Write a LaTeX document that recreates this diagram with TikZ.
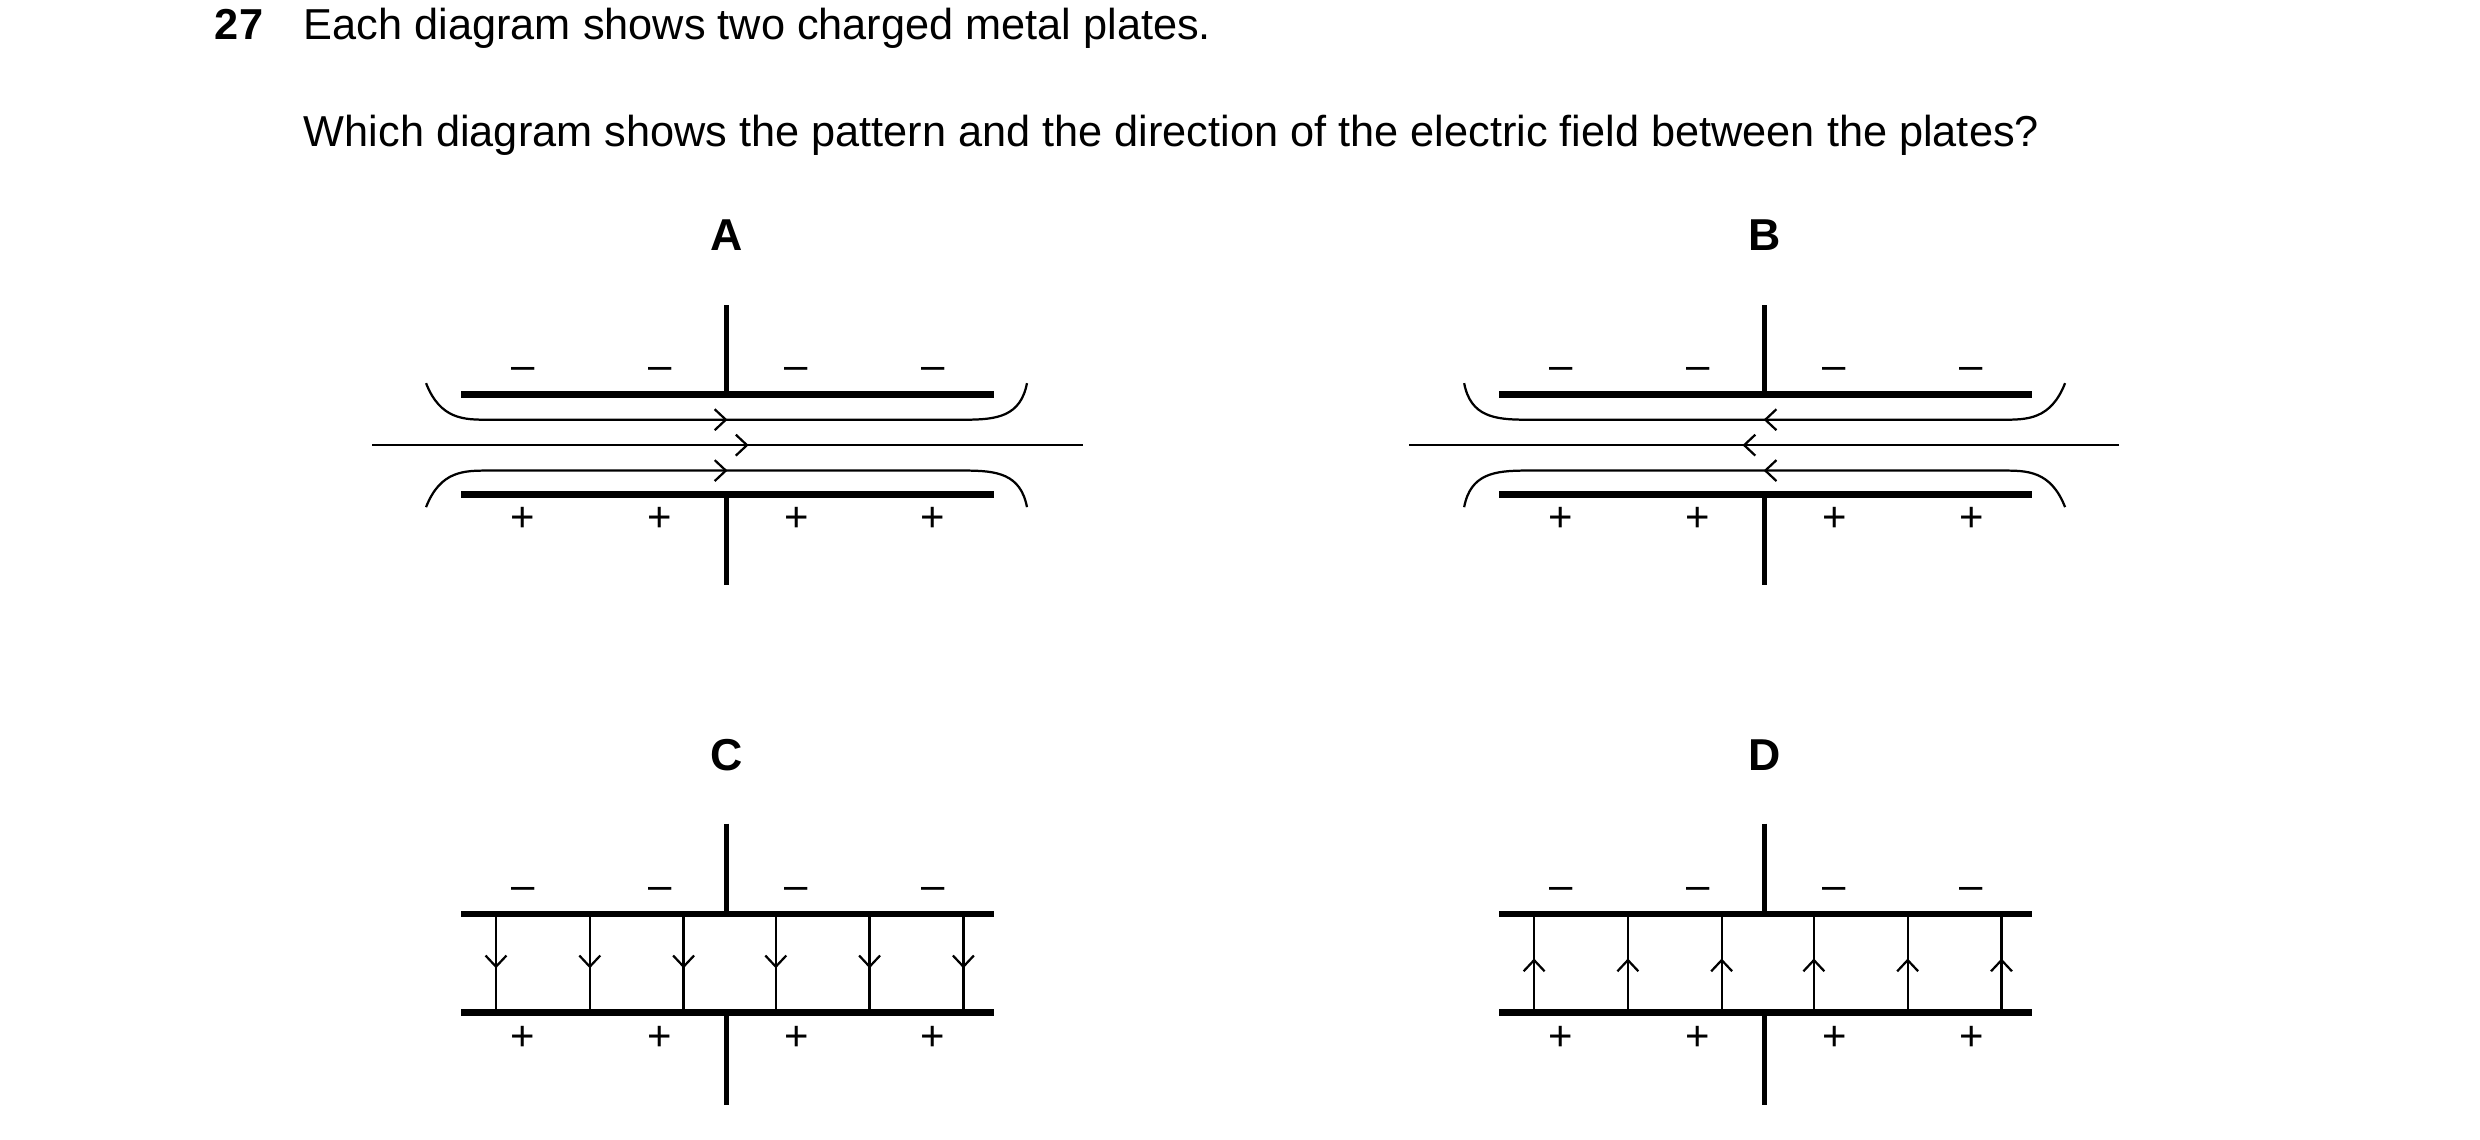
\documentclass[tikz,border=0pt]{standalone}
\usepackage{fontspec}
\setmainfont{Liberation Sans}
\usetikzlibrary{arrows.meta,decorations.markings}
\tikzset{
    plate/.style={line width=2.4pt},
    wire/.style={line width=1.6pt},
    fieldline/.style={line width=0.8pt},
    chev/.style={decoration={markings,mark=at position #1 with {\arrow{Straight Barb[length=4pt,width=7.5pt,line width=0.8pt]}}},postaction={decorate}},
    sign/.style={font=\fontsize{15}{18}\selectfont},
    letter/.style={font=\fontsize{16}{19}\selectfont\bfseries}
}
% plates with signs, centred at #1, plate heights #2 and #3, wire ends #4 and #5
\newcommand\PlatePair[5]{%
    \draw[plate] (#1-167,#2) -- (#1+168,#2);
    \draw[plate] (#1-167,#3) -- (#1+168,#3);
    \draw[wire] (#1,#4) -- (#1,#2);
    \draw[wire] (#1,#3) -- (#1,#5);
    \foreach \dx in {-128,-42,44,130} {
        \node[sign] at (#1+\dx,#2-13) {–};
        \node[sign] at (#1+\dx,#3+16) {+};
    }
}
% curved field pattern, #1 centre, #2 arrow position on the straight parts
\newcommand\CurvedField[3]{%
    \draw[fieldline,chev=#3] (#1-223,280) -- (#1+224,280);
    \draw[fieldline,chev=#2] (#1-189,241) .. controls (#1-180,264) and (#1-165,264) .. (#1-150,264)
        -- (#1+150,264) .. controls (#1+170,264) and (#1+185,262) .. (#1+189,241);
    \draw[fieldline,chev=#2] (#1-189,319) .. controls (#1-180,296) and (#1-165,296) .. (#1-150,296)
        -- (#1+150,296) .. controls (#1+170,296) and (#1+185,298) .. (#1+189,319);
}

\begin{document}
\begin{tikzpicture}[x=0.02cm,y=-0.02cm]
    \useasboundingbox (0,0) rectangle (1560,716.5);
    % question
    \node[anchor=base west,font=\fontsize{15.5}{18}\selectfont\bfseries] (num) at (129,25) {27};
    \node[anchor=base west,font=\fontsize{15.5}{18}\selectfont] (line1) at (185,25) {Each diagram shows two charged metal plates.};
    \node[anchor=base west,font=\fontsize{15.5}{18}\selectfont] (line2) at (185,92) {Which diagram shows the pattern and the direction of the electric field between the plates?};
    % A
    \node[letter] (labA) at (457,148) {A};
    \PlatePair{457}{248}{311}{192}{368}
    \CurvedField{457}{0.5}{0.53}
    % B
    \node[letter] (labB) at (1110,148) {B};
    \PlatePair{1110}{248}{311}{192}{368}
    \begin{scope}[xshift=1110*0.02cm,xscale=-1]
        \CurvedField{0}{0.5}{0.53}
    \end{scope}
    % C
    \node[letter] (labC) at (457,475) {C};
    \PlatePair{457}{575}{637}{518}{695}
    \foreach \fx in {312,371,430,488,547,606}
        \draw[fieldline,chev=0.55] (\fx,575) -- (\fx,637);
    % D
    \node[letter] (labD) at (1110,475) {D};
    \PlatePair{1110}{575}{637}{518}{695}
    \foreach \fx in {965,1024,1083,1141,1200,1259}
        \draw[fieldline,chev=0.55] (\fx,637) -- (\fx,575);
\end{tikzpicture}
\end{document}
